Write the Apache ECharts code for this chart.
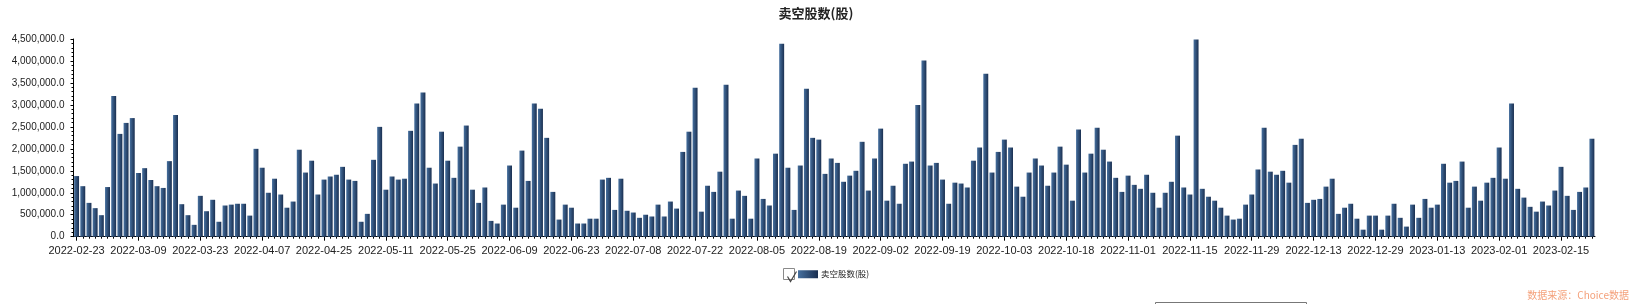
<!DOCTYPE html>
<html lang="zh-CN">
<head>
    <meta charset="utf-8">
    <title>卖空股数(股)</title>
    <script src="https://cdn.jsdelivr.net/npm/echarts@6/dist/echarts.min.js"></script>
    <style type="text/css">
        html, body {
            margin: 0px;
            padding: 0px;
            background: #fff;
        }

        #main {
            width: 1632px;
            height: 304px;
        }
    </style>
</head>
<body>
<div id="main"></div>
<script>
    // 港股交易日: 工作日去掉假期
    var firstDay = '2022-02-23';
    var lastDay = '2023-02-22';
    var holidays = ['2022-04-05', '2022-04-15', '2022-04-18', '2022-05-02', '2022-05-09',
        '2022-06-03', '2022-07-01', '2022-09-12', '2022-10-04', '2022-12-26', '2022-12-27',
        '2023-01-02', '2023-01-23', '2023-01-24', '2023-01-25'];

    // 卖空股数(股), 每个交易日一个值
    var shortShares = [
        1380000, 1150000, 770000, 650000, 490000, 1130000, 3200000, 2340000, 2590000, 2700000,
        1450000, 1560000, 1290000, 1150000, 1110000, 1720000, 2770000, 740000, 490000, 270000,
        930000, 580000, 840000, 340000, 710000, 730000, 750000, 750000, 480000, 2000000,
        1570000, 1000000, 1320000, 960000, 660000, 800000, 1980000, 1460000, 1730000, 960000,
        1300000, 1370000, 1410000, 1590000, 1300000, 1270000, 340000, 520000, 1750000, 2500000,
        1070000, 1370000, 1300000, 1320000, 2410000, 3030000, 3280000, 1570000, 1210000, 2390000,
        1730000, 1340000, 2050000, 2530000, 1070000, 770000, 1120000, 360000, 300000, 730000,
        1620000, 660000, 1960000, 1270000, 3030000, 2910000, 2250000, 1020000, 390000, 730000,
        660000, 300000, 300000, 410000, 410000, 1300000, 1340000, 610000, 1320000, 590000,
        550000, 430000, 500000, 460000, 730000, 460000, 800000, 640000, 1930000, 2390000,
        3390000, 570000, 1160000, 1020000, 1480000, 3460000, 410000, 1050000, 930000, 410000,
        1780000, 860000, 710000, 1890000, 4390000, 1570000, 610000, 1620000, 3370000, 2250000,
        2210000, 1430000, 1780000, 1680000, 1250000, 1390000, 1500000, 2160000, 1050000, 1780000,
        2460000, 820000, 1160000, 750000, 1660000, 1710000, 3000000, 4010000, 1620000, 1680000,
        1300000, 750000, 1230000, 1210000, 1120000, 1730000, 2030000, 3710000, 1460000, 1930000,
        2210000, 2030000, 1140000, 910000, 1460000, 1780000, 1620000, 1160000, 1460000, 2050000,
        1640000, 820000, 2440000, 1460000, 1890000, 2480000, 1980000, 1710000, 1340000, 1020000,
        1390000, 1180000, 1090000, 1410000, 1000000, 660000, 1000000, 1250000, 2300000, 1120000,
        960000, 4490000, 1090000, 910000, 820000, 660000, 480000, 390000, 410000, 730000,
        960000, 1530000, 2480000, 1480000, 1410000, 1500000, 1230000, 2090000, 2230000, 770000,
        840000, 860000, 1140000, 1320000, 520000, 660000, 750000, 410000, 160000, 480000,
        480000, 160000, 480000, 750000, 430000, 230000, 730000, 430000, 860000, 660000,
        730000, 1660000, 1230000, 1270000, 1710000, 660000, 1140000, 820000, 1230000, 1340000,
        2030000, 1320000, 3030000, 1090000, 890000, 680000, 570000, 800000, 710000, 1050000,
        1590000, 930000, 610000, 1020000, 1120000, 2230000
    ];

    var yMax = 4500000;
    var yStep = 500000;
    var seriesName = '卖空股数(股)';
    var sourceText = '数据来源：Choice数据';

    function tradingDays(start, end, skip) {
        var out = [];
        var d = new Date(start + 'T00:00:00Z');
        var stop = new Date(end + 'T00:00:00Z');
        while (d <= stop) {
            var wd = d.getUTCDay();
            var s = d.toISOString().slice(0, 10);
            if (wd !== 0 && wd !== 6 && skip.indexOf(s) < 0) {
                out.push(s);
            }
            d.setUTCDate(d.getUTCDate() + 1);
        }
        return out;
    }

    var dates = tradingDays(firstDay, lastDay, holidays);

    var labelFont = '"Liberation Sans", Arial, sans-serif';
    var cjkFont = '"Noto Sans CJK SC", sans-serif';

    function barColor() {
        return new echarts.graphic.LinearGradient(0, 0, 1, 0, [
            {offset: 0, color: '#46709f'},
            {offset: 1, color: '#1a2f50'}
        ]);
    }

    var myChart = echarts.init(document.getElementById('main'), null, {renderer: 'canvas'});

    var option = {
        animation: false,
        backgroundColor: '#fff',
        title: {
            text: seriesName,
            left: 'center',
            top: 2,
            textStyle: {
                fontFamily: cjkFont,
                fontSize: 13,
                fontWeight: 'bold',
                color: '#222'
            }
        },
        legend: {
            data: [seriesName],
            left: 798,
            top: 270,
            padding: 0,
            itemWidth: 20,
            itemHeight: 8,
            itemGap: 5,
            icon: 'rect',
            selectedMode: false,
            textStyle: {
                fontFamily: cjkFont,
                fontSize: 8.5,
                color: '#222',
                padding: [0, 0, 0, -2]
            }
        },
        grid: {
            left: 73.5,
            right: 37,
            top: 39,
            bottom: 67.3,
            containLabel: false
        },
        xAxis: [{
            type: 'category',
            data: dates,
            boundaryGap: true,
            axisLine: {show: true, lineStyle: {color: '#000', width: 1}},
            axisTick: {show: true, alignWithLabel: true, interval: 9, length: 4, lineStyle: {color: '#000'}},
            axisLabel: {
                interval: 9,
                margin: 9,
                color: '#222',
                fontFamily: labelFont,
                fontSize: 11
            },
            splitLine: {show: false}
        }, {
            type: 'category',
            data: dates,
            position: 'bottom',
            boundaryGap: true,
            axisLine: {show: false},
            axisTick: {show: true, alignWithLabel: true, interval: 0, length: 2, lineStyle: {color: '#000'}},
            axisLabel: {show: false},
            splitLine: {show: false}
        }],
        yAxis: {
            type: 'value',
            min: 0,
            max: yMax,
            interval: yStep,
            axisLine: {show: true, lineStyle: {color: '#000', width: 1}},
            axisTick: {show: true, length: 3, lineStyle: {color: '#000'}},
            minorTick: {show: true, splitNumber: 5, length: 2, lineStyle: {color: '#000'}},
            splitLine: {show: false},
            axisLabel: {
                margin: 9,
                color: '#222',
                fontFamily: labelFont,
                fontSize: 10,
                formatter: function (v) {
                    return v.toLocaleString('en-US', {minimumFractionDigits: 1, maximumFractionDigits: 1});
                }
            }
        },
        series: [{
            name: seriesName,
            type: 'bar',
            xAxisIndex: 0,
            data: shortShares,
            barWidth: '80%',
            itemStyle: {color: barColor()}
        }],
        graphic: [
            // 图例前的复选框
            {
                type: 'rect',
                left: 783,
                top: 268,
                shape: {width: 11, height: 11},
                style: {fill: '#fff', stroke: '#8a8a8a', lineWidth: 1}
            },
            {
                type: 'polyline',
                left: 785,
                top: 269,
                shape: {points: [[0, 5], [3, 10], [9, 0]]},
                style: {fill: null, stroke: '#444', lineWidth: 1.2}
            },
            {
                type: 'text',
                right: 3,
                top: 290,
                style: {
                    text: sourceText,
                    fill: '#f4a07a',
                    font: '10px "Noto Sans CJK SC", sans-serif'
                }
            },
            {
                type: 'rect',
                left: 1155,
                top: 302,
                shape: {width: 151, height: 10},
                style: {fill: '#fff', stroke: '#777', lineWidth: 1}
            }
        ]
    };

    myChart.setOption(option);
</script>
</body>
</html>
